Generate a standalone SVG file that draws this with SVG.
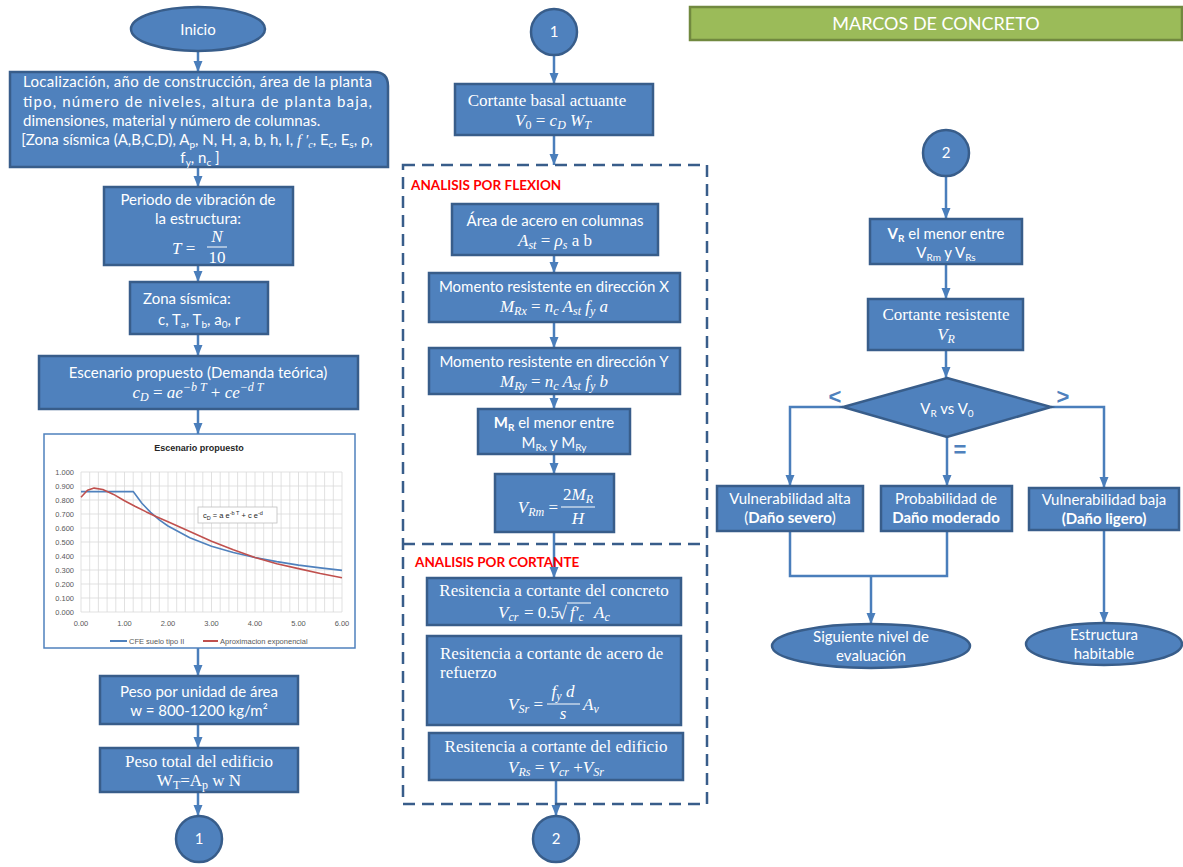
<svg xmlns="http://www.w3.org/2000/svg" width="1183" height="867" viewBox="0 0 1183 867">
<defs>
<marker id="ah" markerUnits="userSpaceOnUse" markerWidth="12" markerHeight="12" viewBox="0 0 12 12" refX="11" refY="6" orient="auto">
<path d="M0,1.5 L11,6 L0,10.5 Z" fill="#4A7EBB"/>
</marker>
<style>
.box{fill:#4F81BD;stroke:#385D8A;stroke-width:2.5}
.t{font-family:Lato,"Liberation Sans",sans-serif;font-size:15px;fill:#fff;text-anchor:middle}
.s{font-family:"Liberation Serif",serif;font-size:17px;fill:#fff;text-anchor:middle}
.m{font-style:italic}
.c{stroke:#4A7EBB;stroke-width:2.5;fill:none}
.ca{stroke:#4A7EBB;stroke-width:2.5;fill:none;marker-end:url(#ah)}
.red{font-family:Lato,"Liberation Sans",sans-serif;font-size:13.5px;font-weight:bold;fill:#FF0000}
.grid{stroke:#D9D9D9;stroke-width:0.8;fill:none}
.ax{font-family:"Liberation Sans",sans-serif;font-size:7.5px;fill:#595959}
.sym{font-family:"Liberation Sans",sans-serif;font-size:22px;font-weight:bold;fill:#4F81BD;text-anchor:middle}
</style>
</defs>

<g id="connectors">
<line class="ca" x1="198" y1="51" x2="198" y2="72"/>
<line class="ca" x1="198" y1="167" x2="198" y2="187"/>
<line class="ca" x1="198" y1="265" x2="198" y2="282"/>
<line class="ca" x1="198" y1="334" x2="198" y2="356"/>
<line class="ca" x1="198" y1="409" x2="198" y2="434"/>
<line class="ca" x1="198" y1="648" x2="198" y2="676"/>
<line class="ca" x1="198" y1="724" x2="198" y2="748"/>
<line class="ca" x1="198" y1="792" x2="198" y2="816"/>
<line class="ca" x1="554" y1="55" x2="554" y2="84"/>
<line class="ca" x1="554" y1="135" x2="554" y2="165"/>
<line class="ca" x1="554" y1="255" x2="554" y2="273"/>
<line class="ca" x1="554" y1="322" x2="554" y2="348"/>
<line class="ca" x1="554" y1="394" x2="554" y2="409"/>
<line class="ca" x1="554" y1="454" x2="554" y2="474"/>
<line class="ca" x1="554" y1="532" x2="554" y2="578"/>
<line class="ca" x1="556" y1="780" x2="556" y2="816"/>
<line class="ca" x1="946" y1="176" x2="946" y2="219"/>
<line class="ca" x1="946" y1="264" x2="946" y2="299"/>
<line class="ca" x1="946" y1="350" x2="946" y2="378"/>
<polyline class="ca" points="843,407 790,407 790,486"/>
<line class="ca" x1="947" y1="437" x2="947" y2="486"/>
<polyline class="ca" points="1051,407 1104,407 1104,488"/>
<polyline class="c" points="790,531 790,576 947,576 947,531"/>
<line class="ca" x1="871" y1="576" x2="871" y2="624"/>
<line class="ca" x1="1104" y1="530" x2="1104" y2="623"/>
</g>

<g id="dashed-groups">
<rect x="403" y="165" width="304" height="639" fill="none" stroke="#385D8A" stroke-width="2.5" stroke-dasharray="12,7"/>
<line x1="403" y1="544" x2="707" y2="544" stroke="#385D8A" stroke-width="2.5" stroke-dasharray="12,7"/>
<text class="red" x="411" y="190">ANALISIS POR FLEXION</text>
<text class="red" x="415" y="567">ANALISIS POR CORTANTE</text>
</g>

<g id="inicio">
<ellipse class="box" cx="198" cy="29" rx="67" ry="22"/>
<text class="t" x="198" y="35">Inicio</text>
</g>

<g id="datos">
<path class="box" d="M10,72 H374 Q388,72 388,86 V167 H10 Z"/>
<text class="t" style="text-anchor:start" x="23" y="87" textLength="349" lengthAdjust="spacing">Localización, año de construcción, área de la planta</text>
<text class="t" style="text-anchor:start" x="23" y="107" textLength="349" lengthAdjust="spacing">tipo, número de niveles, altura de planta baja,</text>
<text class="t" style="text-anchor:start" x="23" y="126">dimensiones, material y número de columnas.</text>
<text class="t" x="197" y="145">[Zona sísmica (A,B,C,D), A<tspan dy="3" font-size="10">p</tspan><tspan dy="-3">, N, H, a, b, h, I, </tspan><tspan font-family="Liberation Serif" font-style="italic">f ′</tspan><tspan dy="3" font-size="10" font-family="Liberation Serif" font-style="italic">c</tspan><tspan dy="-3">, E</tspan><tspan dy="3" font-size="10">c</tspan><tspan dy="-3">, E</tspan><tspan dy="3" font-size="10">s</tspan><tspan dy="-3">, ρ,</tspan></text>
<text class="t" x="200" y="163">f<tspan dy="3" font-size="10">y</tspan><tspan dy="-3">, n</tspan><tspan dy="3" font-size="10">c</tspan><tspan dy="-3"> ]</tspan></text>
</g>

<g id="periodo">
<rect class="box" x="104" y="187" width="189" height="78"/>
<text class="t" x="198" y="205">Periodo de vibración de</text>
<text class="t" x="198" y="224">la estructura:</text>
<text class="s" style="text-anchor:start" x="172" y="254"><tspan font-style="italic">T</tspan> =</text>
<text class="s m" x="217" y="242">N</text>
<line x1="207" y1="247" x2="227" y2="247" stroke="#fff" stroke-width="1"/>
<text class="s" x="217" y="263">10</text>
</g>

<g id="zona">
<rect class="box" x="130" y="282" width="138" height="52"/>
<text class="t" style="text-anchor:start" x="143" y="304">Zona sísmica:</text>
<text class="t" style="text-anchor:start" x="158" y="325">c, T<tspan dy="3" font-size="10">a</tspan><tspan dy="-3">, T</tspan><tspan dy="3" font-size="10">b</tspan><tspan dy="-3">, a</tspan><tspan dy="3" font-size="10">0</tspan><tspan dy="-3">, r</tspan></text>
</g>

<g id="escenario">
<rect class="box" x="39" y="356" width="319" height="53"/>
<text class="t" x="198" y="378">Escenario  propuesto (Demanda teórica)</text>
<text class="s m" x="198" y="398">c<tspan dy="3" font-size="12">D</tspan><tspan dy="-3" font-style="normal"> = </tspan>ae<tspan dy="-7" font-size="12">−b T</tspan><tspan dy="7" font-style="normal"> + </tspan>ce<tspan dy="-7" font-size="12">−d T</tspan></text>
</g>

<g id="grafica">
<rect x="44" y="434" width="311" height="214" fill="#fff" stroke="#4F81BD" stroke-width="1.5"/>
<text x="199" y="451" font-family="Liberation Sans,sans-serif" font-size="9" font-weight="bold" fill="#262626" text-anchor="middle">Escenario propuesto</text>
<path class="grid" d="M81,472V612M89.7,472V612M98.4,472V612M107.1,472V612M115.8,472V612M124.5,472V612M133.2,472V612M141.9,472V612M150.6,472V612M159.3,472V612M168,472V612M176.7,472V612M185.4,472V612M194.1,472V612M202.8,472V612M211.5,472V612M220.2,472V612M228.9,472V612M237.6,472V612M246.3,472V612M255,472V612M263.7,472V612M272.4,472V612M281.1,472V612M289.8,472V612M298.5,472V612M307.2,472V612M315.9,472V612M324.6,472V612M333.3,472V612M342,472V612"/>
<path class="grid" d="M81,472H342M81,486H342M81,500H342M81,514H342M81,528H342M81,542H342M81,556H342M81,570H342M81,584H342M81,598H342M81,612H342"/>
<g class="ax" text-anchor="end">
<text x="74" y="474.5">1.000</text><text x="74" y="488.5">0.900</text><text x="74" y="502.5">0.800</text><text x="74" y="516.5">0.700</text><text x="74" y="530.5">0.600</text><text x="74" y="544.5">0.500</text><text x="74" y="558.5">0.400</text><text x="74" y="572.5">0.300</text><text x="74" y="586.5">0.200</text><text x="74" y="600.5">0.100</text><text x="74" y="614.5">0.000</text>
</g>
<g class="ax" text-anchor="middle">
<text x="81" y="626">0.00</text><text x="124.5" y="626">1.00</text><text x="168" y="626">2.00</text><text x="211.5" y="626">3.00</text><text x="255" y="626">4.00</text><text x="298.5" y="626">5.00</text><text x="342" y="626">6.00</text>
</g>
<polyline points="81,491.6 133.2,491.6 141.9,503.2 150.6,512.4 159.3,519.9 168,526 189.8,537.8 211.5,546.2 233.3,552.5 255,557.5 276.8,561.6 298.5,565.1 320.3,567.9 342,570.4" fill="none" stroke="#4F81BD" stroke-width="1.6" stroke-linejoin="round"/>
<polyline points="81,497.2 87.5,490.2 94.1,488.1 102.8,489.5 113.6,494.4 124.5,500.7 135.4,506.5 146.3,511.9 157.1,516.9 168,521.7 189.8,531.5 211.5,541.3 233.3,549.7 255,557.4 276.8,563.7 298.5,568.6 320.3,573.5 342,577.7" fill="none" stroke="#C0504D" stroke-width="1.6" stroke-linejoin="round"/>
<rect x="198" y="507" width="79" height="16" fill="#fff" stroke="#BFBFBF" stroke-width="0.8"/>
<text x="203" y="518" font-family="Liberation Sans,sans-serif" font-size="7.5" fill="#262626">c<tspan dy="2" font-size="5.5">D</tspan><tspan dy="-2"> = a e</tspan><tspan dy="-3" font-size="5.5">-b T</tspan><tspan dy="3"> + c e</tspan><tspan dy="-3" font-size="5.5">-d</tspan></text>
<line x1="110" y1="641" x2="127" y2="641" stroke="#4F81BD" stroke-width="2"/>
<text class="ax" x="129" y="644">CFE suelo tipo II</text>
<line x1="203" y1="641" x2="218" y2="641" stroke="#C0504D" stroke-width="2"/>
<text class="ax" x="220" y="644">Aproximacion exponencial</text>
</g>

<g id="peso-unidad">
<rect class="box" x="100" y="676" width="198" height="48"/>
<text class="t" x="199" y="697">Peso por unidad de área</text>
<text class="t" x="199" y="716">w = 800-1200 kg/m²</text>
</g>

<g id="peso-total">
<rect class="box" x="100" y="748" width="198" height="44"/>
<text class="s" x="199" y="767">Peso total del edificio</text>
<text class="s" x="199" y="786">W<tspan dy="3" font-size="12">T</tspan><tspan dy="-3">=A</tspan><tspan dy="3" font-size="12">p</tspan><tspan dy="-3"> w  N</tspan></text>
</g>

<g id="conector-1a">
<circle class="box" cx="199" cy="839" r="23"/>
<text class="t" x="199" y="844">1</text>
</g>

<g id="conector-1b">
<circle class="box" cx="554" cy="32" r="23"/>
<text class="t" x="554" y="37">1</text>
</g>

<g id="cortante-basal">
<rect class="box" x="455" y="84" width="198" height="51"/>
<text class="s" x="547" y="106">Cortante basal actuante</text>
<text class="s m" x="553" y="126">V<tspan dy="3" font-size="12" font-style="normal">0</tspan><tspan dy="-3" font-style="normal"> = </tspan>c<tspan dy="3" font-size="12">D</tspan><tspan dy="-3"> W</tspan><tspan dy="3" font-size="12">T</tspan></text>
</g>

<g id="area-acero">
<rect class="box" x="452" y="204" width="206" height="51"/>
<text class="t" x="555" y="226">Área de acero en columnas</text>
<text class="s" x="555" y="246"><tspan font-style="italic">A</tspan><tspan dy="3" font-size="12" font-style="italic">st</tspan><tspan dy="-3"> =  </tspan><tspan font-style="italic">ρ</tspan><tspan dy="3" font-size="12" font-style="italic">s</tspan><tspan dy="-3"> a b</tspan></text>
</g>

<g id="momento-x">
<rect class="box" x="429" y="273" width="251" height="49"/>
<text class="t" x="554" y="292">Momento resistente en dirección X</text>
<text class="s m" x="554" y="312">M<tspan dy="3" font-size="12">Rx</tspan><tspan dy="-3" font-style="normal"> = </tspan>n<tspan dy="3" font-size="12">c</tspan><tspan dy="-3"> A</tspan><tspan dy="3" font-size="12">st</tspan><tspan dy="-3"> f</tspan><tspan dy="3" font-size="12">y</tspan><tspan dy="-3"> a</tspan></text>
</g>

<g id="momento-y">
<rect class="box" x="429" y="348" width="251" height="46"/>
<text class="t" x="554" y="367">Momento resistente en dirección Y</text>
<text class="s m" x="554" y="387">M<tspan dy="3" font-size="12">Ry</tspan><tspan dy="-3" font-style="normal"> = </tspan>n<tspan dy="3" font-size="12">c</tspan><tspan dy="-3"> A</tspan><tspan dy="3" font-size="12">st</tspan><tspan dy="-3"> f</tspan><tspan dy="3" font-size="12">y</tspan><tspan dy="-3"> b</tspan></text>
</g>

<g id="mr-menor">
<rect class="box" x="478" y="409" width="152" height="45"/>
<text class="t" x="554" y="428"><tspan font-weight="bold">M</tspan><tspan dy="3" font-size="10" font-weight="bold">R</tspan><tspan dy="-3"> el menor entre</tspan></text>
<text class="t" x="554" y="448">M<tspan dy="3" font-size="10">Rx</tspan><tspan dy="-3"> y M</tspan><tspan dy="3" font-size="10">Ry</tspan></text>
</g>

<g id="vrm">
<rect class="box" x="495" y="474" width="119" height="58"/>
<text class="s m" style="text-anchor:end" x="558" y="513">V<tspan dy="3" font-size="12">Rm</tspan><tspan dy="-3" font-style="normal"> =</tspan></text>
<text class="s m" x="578" y="500"><tspan font-style="normal">2</tspan>M<tspan dy="3" font-size="12">R</tspan></text>
<line x1="561" y1="507" x2="595" y2="507" stroke="#fff" stroke-width="1"/>
<text class="s m" x="578" y="524">H</text>
</g>

<g id="cortante-concreto">
<rect class="box" x="427" y="578" width="254" height="47"/>
<text class="s" x="554" y="596">Resitencia a cortante del concreto</text>
<text class="s m" style="text-anchor:start" x="498" y="618">V<tspan dy="3" font-size="12">cr</tspan></text>
<text class="s" style="text-anchor:start" x="524" y="618">= 0.5</text>
<text class="s" style="text-anchor:start;font-size:18px" x="557" y="619">√</text>
<line x1="567" y1="603" x2="591" y2="603" stroke="#fff" stroke-width="1"/>
<text class="s m" style="text-anchor:start" x="570" y="618">f′<tspan dy="3" font-size="12">c</tspan></text>
<text class="s m" style="text-anchor:start" x="594" y="618">A<tspan dy="3" font-size="12">c</tspan></text>
</g>

<g id="cortante-acero">
<rect class="box" x="427" y="636" width="254" height="89"/>
<text class="s" style="text-anchor:start" x="440" y="659">Resitencia a cortante de acero de</text>
<text class="s" style="text-anchor:start" x="440" y="678">refuerzo</text>
<text class="s m" style="text-anchor:end" x="543" y="710">V<tspan dy="3" font-size="12">Sr</tspan><tspan dy="-3" font-style="normal"> =</tspan></text>
<text class="s m" x="563" y="697">f<tspan dy="3" font-size="12">y</tspan><tspan dy="-3"> d</tspan></text>
<line x1="547" y1="704" x2="580" y2="704" stroke="#fff" stroke-width="1"/>
<text class="s m" x="563" y="719">s</text>
<text class="s m" style="text-anchor:start" x="583" y="710">A<tspan dy="3" font-size="12">v</tspan></text>
</g>

<g id="cortante-edificio">
<rect class="box" x="429" y="733" width="254" height="47"/>
<text class="s" x="556" y="752">Resitencia a cortante del edificio</text>
<text class="s m" x="556" y="773">V<tspan dy="3" font-size="12">Rs</tspan><tspan dy="-3" font-style="normal"> = </tspan>V<tspan dy="3" font-size="12">cr</tspan><tspan dy="-3" font-style="normal"> +</tspan>V<tspan dy="3" font-size="12">Sr</tspan></text>
</g>

<g id="conector-2a">
<circle class="box" cx="556" cy="839" r="23"/>
<text class="t" x="556" y="844">2</text>
</g>

<g id="titulo">
<rect x="690" y="7" width="492" height="33" fill="#9BBB59" stroke="#71893F" stroke-width="2.5"/>
<text class="t" x="936" y="30" style="font-size:18px">MARCOS DE CONCRETO</text>
</g>

<g id="conector-2b">
<circle class="box" cx="946" cy="153" r="23"/>
<text class="t" x="946" y="158">2</text>
</g>

<g id="vr-menor">
<rect class="box" x="870" y="219" width="152" height="45"/>
<text class="t" x="946" y="239"><tspan font-weight="bold">V</tspan><tspan dy="3" font-size="10" font-weight="bold">R</tspan><tspan dy="-3"> el menor entre</tspan></text>
<text class="t" x="946" y="258">V<tspan dy="3" font-size="10">Rm</tspan><tspan dy="-3"> y V</tspan><tspan dy="3" font-size="10">Rs</tspan></text>
</g>

<g id="cortante-resistente">
<rect class="box" x="868" y="299" width="155" height="51"/>
<text class="s" x="946" y="320">Cortante resistente</text>
<text class="s m" x="946" y="340">V<tspan dy="3" font-size="12">R</tspan></text>
</g>

<g id="decision">
<polygon class="box" points="947,378 1051,407 947,437 843,407"/>
<text class="t" x="947" y="414">V<tspan dy="3" font-size="10">R</tspan><tspan dy="-3"> vs V</tspan><tspan dy="3" font-size="10">0</tspan></text>
<text class="sym" x="835" y="404">&lt;</text>
<text class="sym" x="1063" y="404">&gt;</text>
<text class="sym" x="960" y="457">=</text>
</g>

<g id="vulnerabilidad-alta">
<rect class="box" x="717" y="486" width="146" height="45"/>
<text class="t" x="790" y="504">Vulnerabilidad alta</text>
<text class="t" x="790" y="523">(<tspan font-weight="bold">Daño severo</tspan>)</text>
</g>

<g id="dano-moderado">
<rect class="box" x="881" y="486" width="131" height="45"/>
<text class="t" x="946" y="504">Probabilidad de</text>
<text class="t" x="946" y="523" font-weight="bold">Daño moderado</text>
</g>

<g id="vulnerabilidad-baja">
<rect class="box" x="1029" y="488" width="150" height="42"/>
<text class="t" x="1104" y="505">Vulnerabilidad baja</text>
<text class="t" x="1104" y="524" font-weight="bold">(Daño ligero)</text>
</g>

<g id="siguiente-nivel">
<ellipse class="box" cx="871" cy="646" rx="99" ry="22"/>
<text class="t" x="871" y="642">Siguiente nivel de</text>
<text class="t" x="871" y="661">evaluación</text>
</g>

<g id="estructura-habitable">
<ellipse class="box" cx="1104" cy="644" rx="78" ry="21"/>
<text class="t" x="1104" y="640">Estructura</text>
<text class="t" x="1104" y="659">habitable</text>
</g>
</svg>
